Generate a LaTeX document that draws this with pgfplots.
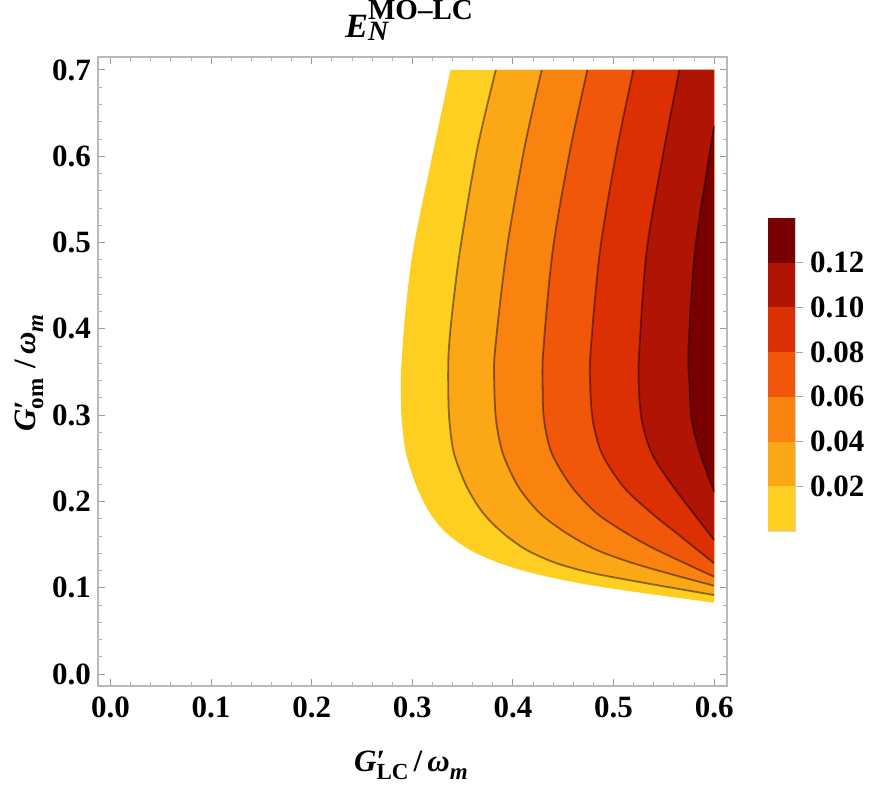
\documentclass[border=0pt]{standalone}
\usepackage{fontspec}
\setmainfont{Liberation Serif}
\usepackage{pgfplots}
\usepackage{pgfplotstable}
\pgfplotsset{compat=1.18}
\usepgfplotslibrary{fillbetween}

\definecolor{c0}{RGB}{254,207,32}
\definecolor{c1}{RGB}{252,167,22}
\definecolor{c2}{RGB}{250,130,15}
\definecolor{c3}{RGB}{240,87,10}
\definecolor{c4}{RGB}{220,47,3}
\definecolor{c5}{RGB}{176,20,4}
\definecolor{c6}{RGB}{120,0,0}

\newcommand{\lab}{\fontsize{15.5}{18}\selectfont\bfseries}
\newcommand{\sub}[1]{\raisebox{-0.25em}{\fontsize{11.5}{12}\selectfont #1}}

\tikzset{isoline/.style={smooth, draw=black, draw opacity=0.45, line width=0.9pt}}

% contour curves, top -> bottom right
\pgfplotstableread{
x y
0.338 0.700
0.319 0.596
0.3007 0.491
0.2927 0.414
0.2890 0.355
0.2887 0.320
0.2895 0.2943
0.2937 0.2557
0.3044 0.2170
0.3176 0.1862
0.3342 0.1630
0.3574 0.1437
0.3872 0.1283
0.4203 0.1167
0.4667 0.1051
0.5197 0.0954
0.600 0.0826
}\Lzero
\pgfplotstableread{
x y
0.383 0.700
0.3643 0.607
0.3474 0.491
0.3392 0.414
0.3360 0.370
0.3357 0.330
0.3368 0.2943
0.3414 0.2557
0.3541 0.2170
0.3706 0.1862
0.3905 0.1630
0.4137 0.1437
0.4435 0.1283
0.4799 0.1167
0.533 0.1051
0.600 0.0915
}\Lone
\pgfplotstableread{
x y
0.4286 0.700
0.411 0.607
0.3938 0.491
0.3822 0.375
0.3815 0.335
0.3832 0.2943
0.3899 0.2557
0.4054 0.2170
0.4269 0.1862
0.4535 0.1630
0.4833 0.1437
0.5197 0.1283
0.5594 0.1150
0.600 0.1023
}\Ltwo
\pgfplotstableread{
x y
0.474 0.700
0.4568 0.607
0.4396 0.491
0.4302 0.375
0.4295 0.335
0.4309 0.2943
0.4386 0.2557
0.4584 0.2170
0.4833 0.1862
0.5131 0.1630
0.543 0.1437
0.600 0.1127
}\Lthree
\pgfplotstableread{
x y
0.5197 0.700
0.5032 0.607
0.4866 0.491
0.4773 0.375
0.4768 0.335
0.4793 0.2943
0.4883 0.2557
0.5097 0.2170
0.538 0.1862
0.5628 0.1630
0.600 0.1283
}\Lfour
\pgfplotstableread{
x y
0.5654 0.700
0.550 0.607
0.533 0.491
0.5256 0.375
0.5250 0.335
0.5280 0.2943
0.5380 0.2557
0.5594 0.2170
0.600 0.1553
}\Lfive
\pgfplotstableread{
x y
0.600 0.635
0.596 0.607
0.581 0.491
0.5744 0.375
0.5755 0.335
0.5777 0.2943
0.5860 0.2557
0.600 0.2112
}\Lsix

\begin{document}
\begin{tikzpicture}
\begin{axis}[name=main, at={(0,0)}, anchor=south west,
  scale only axis, width=314.5pt, height=314.5pt,
  set layers,
  xmin=-0.0124, xmax=0.6128, ymin=-0.0139, ymax=0.715,
  xtick={0,0.1,0.2,0.3,0.4,0.5,0.6},
  ytick={0,0.1,0.2,0.3,0.4,0.5,0.6,0.7},
  minor tick num=4,
  tick align=inside, major tick length=3.5pt, minor tick length=2.2pt,
  axis line style={gray!55, line width=0.6pt},
  major tick style={gray!80, line width=0.5pt},
  minor tick style={gray!60, line width=0.4pt},
  /pgf/number format/assume math mode=true,
  ticklabel style={font=\lab},
  xticklabel style={yshift=-2pt, /pgf/number format/.cd, fixed, fixed zerofill, precision=1},
  yticklabel style={/pgf/number format/.cd, fixed, fixed zerofill, precision=1},
  xlabel={\lab\textit{G}\rlap{′}\sub{LC}\,/\,\textit{ω}\sub{\textit{m}}},
  ylabel={\lab\textit{G}\rlap{′}\sub{om}\,\,/\,\textit{ω}\sub{\textit{m}}},
  xlabel style={at={(axis description cs:0.4976,-0.1256)}, anchor=center, inner sep=0pt},
  ylabel style={at={(axis description cs:-0.1097,0.4976)}, anchor=center, inner sep=0pt},
  title={\fontsize{17}{20}\selectfont\bfseries\itshape E\rlap{\raisebox{9pt}{\fontsize{14.5}{15}\selectfont\upshape MO–LC}}\raisebox{-1.5pt}{\fontsize{14}{15}\selectfont N}},
  title style={at={(axis description cs:0.3927,1.0115)}, anchor=base west, inner sep=0pt},
]
\addplot[smooth, draw=none, name path=L0] table {\Lzero};
\addplot[draw=none, name path=B0] coordinates {(0.338,0.7) (0.6,0.7) (0.6,0.0826)};
\addplot[fill=c0, draw=none] fill between[of=L0 and B0];

\addplot[isoline, name path=L1] table {\Lone};
\addplot[draw=none, name path=B1] coordinates {(0.383,0.7) (0.6,0.7) (0.6,0.0915)};
\addplot[fill=c1, draw=none] fill between[of=L1 and B1];

\addplot[isoline, name path=L2] table {\Ltwo};
\addplot[draw=none, name path=B2] coordinates {(0.4286,0.7) (0.6,0.7) (0.6,0.1023)};
\addplot[fill=c2, draw=none] fill between[of=L2 and B2];

\addplot[isoline, name path=L3] table {\Lthree};
\addplot[draw=none, name path=B3] coordinates {(0.474,0.7) (0.6,0.7) (0.6,0.1127)};
\addplot[fill=c3, draw=none] fill between[of=L3 and B3];

\addplot[isoline, name path=L4] table {\Lfour};
\addplot[draw=none, name path=B4] coordinates {(0.5197,0.7) (0.6,0.7) (0.6,0.1283)};
\addplot[fill=c4, draw=none] fill between[of=L4 and B4];

\addplot[isoline, name path=L5] table {\Lfive};
\addplot[draw=none, name path=B5] coordinates {(0.5654,0.7) (0.6,0.7) (0.6,0.1553)};
\addplot[fill=c5, draw=none] fill between[of=L5 and B5];

\addplot[isoline, name path=L6] table {\Lsix};
\addplot[draw=none, name path=B6] coordinates {(0.6,0.635) (0.6,0.2112)};
\addplot[fill=c6, draw=none] fill between[of=L6 and B6];
\end{axis}

\begin{axis}[at={(335pt,77.5pt)}, anchor=south west,
  scale only axis, width=13.5pt, height=156.5pt,
  xmin=0, xmax=1, ymin=0, ymax=0.14,
  xtick=\empty,
  ytick={0.02,0.04,0.06,0.08,0.10,0.12},
  ytick pos=right, yticklabel pos=right,
  tick align=outside, major tick length=4pt,
  axis line style={gray!35, line width=0.4pt},
  major tick style={gray!70, line width=0.5pt},
  /pgf/number format/assume math mode=true,
  ticklabel style={font=\lab},
  yticklabel style={/pgf/number format/.cd, fixed, fixed zerofill, precision=2},
]
\addplot[fill=c0, draw=none] coordinates {(0,0) (1,0) (1,0.02) (0,0.02)};
\addplot[fill=c1, draw=none] coordinates {(0,0.02) (1,0.02) (1,0.04) (0,0.04)};
\addplot[fill=c2, draw=none] coordinates {(0,0.04) (1,0.04) (1,0.06) (0,0.06)};
\addplot[fill=c3, draw=none] coordinates {(0,0.06) (1,0.06) (1,0.08) (0,0.08)};
\addplot[fill=c4, draw=none] coordinates {(0,0.08) (1,0.08) (1,0.10) (0,0.10)};
\addplot[fill=c5, draw=none] coordinates {(0,0.10) (1,0.10) (1,0.12) (0,0.12)};
\addplot[fill=c6, draw=none] coordinates {(0,0.12) (1,0.12) (1,0.14) (0,0.14)};
\end{axis}
\path (-49pt,-49pt) rectangle (387pt,343pt);
\end{tikzpicture}
\end{document}
